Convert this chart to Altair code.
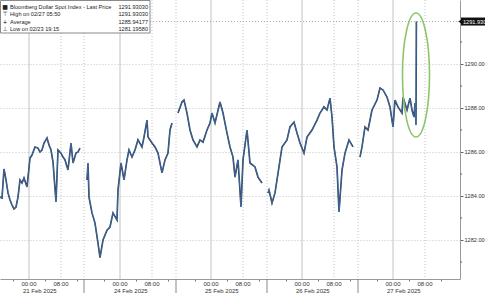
import altair as alt
import pandas as pd

# ---- price series (x in chart hours, 4 px per hour; y = index level) ----
d1_h = [0, 0.5, 1, 1.5, 2, 2.5, 3, 3.5, 4, 4.5, 5, 5.5, 6, 6.75, 7.5, 8, 8.75, 9.5, 10, 10.5,
        11, 11.75, 12.25, 12.75, 13.25, 14, 14.5, 15.25, 15.75, 16.25, 17, 17.75, 18.25, 19, 19.5, 20]
d1_v = [1283.95, 1283.91, 1285.23, 1284.73, 1284.14, 1283.82, 1283.59, 1283.41, 1283.50, 1283.95,
        1284.73, 1284.59, 1284.82, 1284.41, 1285.73, 1285.86, 1286.23, 1286.18, 1286.00, 1286.09,
        1286.41, 1286.64, 1286.32, 1286.09, 1285.55, 1283.73, 1286.09, 1285.95, 1285.77, 1285.64,
        1285.18, 1286.41, 1285.50, 1285.95, 1286.00, 1286.18]
d2_h = [21.75, 22, 22.25, 23, 23.75, 24.5, 25, 25.75, 26.75, 27.5, 28.25, 29.25, 29.5, 30.25, 31,
        31.75, 32.25, 33, 33.75, 34.5, 35.5, 36, 36.75, 37, 38, 38.75, 39.5, 40.5, 41.25, 42, 42.5, 43]
d2_v = [1284.73, 1285.50, 1283.95, 1283.23, 1282.77, 1281.86, 1281.20, 1282.00, 1282.45, 1282.59,
        1283.23, 1282.91, 1284.27, 1285.50, 1284.73, 1285.64, 1286.09, 1285.77, 1286.09, 1286.55,
        1286.23, 1286.68, 1287.45, 1286.68, 1286.41, 1286.23, 1285.95, 1285.05, 1285.64, 1285.95,
        1287.00, 1287.32]
d3_h = [44.5, 45.5, 46, 46.75, 47.5, 48.25, 49.25, 50, 50.75, 51.75, 52.5, 53, 53.75, 55, 55.75,
        56.75, 57.5, 58.25, 58.75, 59.5, 60.25, 60.75, 61.75, 62.5, 63.75, 64.5, 65.5]
d3_v = [1287.77, 1288.27, 1288.36, 1287.77, 1287.00, 1286.55, 1286.23, 1286.55, 1286.45, 1287.00,
        1287.32, 1287.77, 1287.32, 1288.27, 1287.77, 1286.86, 1286.23, 1285.77, 1284.86, 1285.64,
        1283.50, 1285.64, 1287.00, 1285.50, 1285.32, 1284.86, 1284.59]
d4_h = [67, 67.25, 68, 68.75, 69.75, 70.5, 71.75, 72.5, 73.5, 74.25, 75, 76, 76.75, 78, 79.25,
        80, 81, 81.75, 82.5, 83, 83.5, 84.25, 84.75, 85.5, 86.25, 87.25, 88.25]
d4_v = [1284.14, 1284.27, 1283.68, 1284.14, 1285.32, 1286.23, 1286.55, 1287.14, 1287.36, 1286.86,
        1286.41, 1285.95, 1286.68, 1287.00, 1287.45, 1287.77, 1288.05, 1287.91, 1288.45, 1287.59,
        1286.23, 1285.32, 1283.27, 1285.18, 1285.95, 1286.55, 1286.23]
d5_h = [90, 90.5, 91.25, 92, 93, 94.25, 95, 95.75, 96.75, 97.5, 98.25, 98.75, 99.5, 100.5,
        100.75, 101.75, 102.5, 103, 103.5, 103.75, 104, 104.1]
d5_v = [1285.77, 1286.23, 1287.14, 1287.00, 1287.91, 1288.36, 1288.91, 1288.82, 1288.50, 1288.05,
        1287.14, 1288.36, 1288.05, 1287.77, 1288.50, 1287.91, 1288.45, 1287.91, 1287.59, 1288.23,
        1287.23, 1291.93]

last_price = 1291.93
last_label = "1291.930"

# ---- axis content ----
y_ticks = [1282, 1284, 1286, 1288, 1290]
y_minor = [1281, 1283, 1285, 1287, 1289, 1291]
midnight_h = [7.25, 30, 52.75, 75.5, 98.25]
eight_h = [15.25, 38, 60.75, 83.5, 106.25]
boundary_h = [21, 44, 66.75, 89.5]
minor_h = [3.25, 11.25, 19.25, 26, 34, 42, 48.75, 56.75, 64.75, 71.5, 79.5, 87.5,
           94.25, 102.25, 110.25]
day_labels = ["21 Feb 2025", "24 Feb 2025", "25 Feb 2025", "26 Feb 2025", "27 Feb 2025"]
day_label_h = [5.75, 28.5, 51.25, 74, 96.75]

legend_syms = ["■", "⊤", "+", "⊥"]
legend_text = ["Bloomberg Dollar Spot Index - Last Price", "High on 02/27 05:50",
               "Average", "Low on 02/23 19:15"]
legend_vals = ["1291.93030", "1291.93030", "1285.94177", "1281.19580"]

# highlight ellipse centre
ell_h = 104
ell_v = 1289.5

FONT = "Liberation Sans"

rows = []
for s, (hs, vs) in enumerate([(d1_h, d1_v), (d2_h, d2_v), (d3_h, d3_v), (d4_h, d4_v), (d5_h, d5_v)]):
    for h, v in zip(hs, vs):
        rows.append({"h": h, "v": v, "s": s})
price = pd.DataFrame(rows)

xscale = alt.Scale(domain=[0, 115], nice=False, zero=False)
yscale = alt.Scale(domain=[1280.227, 1292.909], nice=False, zero=False)
yaxis = alt.Axis(orient="right", values=y_ticks, format=".3f", title=None,
                 labelFont=FONT, labelFontSize=5.6, labelColor="#333333", labelPadding=1,
                 tickSize=3, tickColor="#666666", domainColor="#999999",
                 grid=True, gridColor="#c4c4c4", gridDash=[1, 2])
xaxis = alt.Axis(values=minor_h, labels=False, title=None, tickSize=2, tickColor="#777777",
                 domainColor="#999999", grid=False)
X = alt.X("h:Q", scale=xscale, axis=xaxis)
Y = alt.Y("v:Q", scale=yscale, axis=yaxis)

base_y = alt.Chart(pd.DataFrame({"v": y_ticks})).mark_rule(opacity=0).encode(y=Y)

vmid = alt.Chart(pd.DataFrame({"h": midnight_h})).mark_rule(color="#c2c2c2", strokeWidth=1).encode(
    x=X, y=alt.value(0), y2=alt.value(279))
vdot = alt.Chart(pd.DataFrame({"h": eight_h + boundary_h})).mark_rule(
    color="#c4c4c4", strokeWidth=1, strokeDash=[1, 2]).encode(x=X, y=alt.value(0), y2=alt.value(279))
seps = alt.Chart(pd.DataFrame({"h": boundary_h})).mark_rule(color="#888888", strokeWidth=1).encode(
    x=X, y=alt.value(279), y2=alt.value(293))
lastline = alt.Chart(pd.DataFrame({"v": [last_price]})).mark_rule(
    color="#b0b0b0", strokeDash=[1, 2]).encode(y=Y, x=alt.value(0), x2=alt.value(460))
yminor = alt.Chart(pd.DataFrame({"v": y_minor})).mark_rule(color="#666666").encode(
    y=Y, x=alt.value(460), x2=alt.value(462))

line_dark = alt.Chart(price).mark_line(color="#1f3554", strokeWidth=1.6, interpolate="linear").encode(
    x=X, y=Y, detail="s:N")
line_light = alt.Chart(price).mark_line(color="#5b8fcc", strokeWidth=0.6, opacity=0.9).encode(
    x=X, y=Y, detail="s:N")

ellipse = alt.Chart(pd.DataFrame({"h": [ell_h], "v": [ell_v]})).mark_point(
    shape="M0,-1A0.218,1,0,1,1,0,1A0.218,1,0,1,1,0,-1Z", size=15376, filled=False,
    stroke="#8cc56a", strokeWidth=1.6, opacity=1).encode(x=X, y=Y)

last_box = alt.Chart(pd.DataFrame({"v": [last_price]})).mark_rect(
    color="#111111", yOffset=-4, y2Offset=4).encode(y=Y, y2="v:Q", x=alt.value(461), x2=alt.value(490))
last_tri = alt.Chart(pd.DataFrame({"v": [last_price]})).mark_point(
    shape="triangle-left", filled=True, color="#111111", size=18, opacity=1).encode(y=Y, x=alt.value(460))
last_txt = alt.Chart(pd.DataFrame({"v": [last_price], "t": [last_label]})).mark_text(
    color="white", font=FONT, fontSize=5.6, align="left", baseline="middle").encode(
    y=Y, x=alt.value(463), text="t:N")

tick_df = pd.DataFrame({"h": midnight_h + eight_h, "t": ["00:00"] * 5 + ["08:00"] * 5})
tick_txt = alt.Chart(tick_df).mark_text(font=FONT, fontSize=6, color="#333333", baseline="middle").encode(
    x=X, y=alt.value(284), text="t:N")
day_txt = alt.Chart(pd.DataFrame({"h": day_label_h, "t": day_labels})).mark_text(
    font=FONT, fontSize=6, color="#333333", baseline="middle", align="left").encode(
    x=X, y=alt.value(290.5), text="t:N")

leg_box = alt.Chart(pd.DataFrame({"a": [0]})).mark_rect(
    fill="white", stroke="#8a8a8a", strokeWidth=1).encode(
    x=alt.value(0.5), x2=alt.value(150), y=alt.value(0.5), y2=alt.value(33))
leg_df = pd.DataFrame({"sym": legend_syms, "txt": legend_text, "val": legend_vals,
                       "row": [0, 1, 2, 3]})
rowscale = alt.Scale(domain=[0, 3], range=[7, 29])
leg_sym = alt.Chart(leg_df).mark_text(font="DejaVu Sans", fontSize=6, color="#222222",
                                      align="center", baseline="middle").encode(
    x=alt.value(5), y=alt.Y("row:Q", scale=rowscale, axis=None), text="sym:N")
leg_txt = alt.Chart(leg_df).mark_text(font=FONT, fontSize=5.6, color="#222222",
                                      align="left", baseline="middle").encode(
    x=alt.value(10), y=alt.Y("row:Q", scale=rowscale, axis=None), text="txt:N")
leg_val = alt.Chart(leg_df).mark_text(font=FONT, fontSize=5.6, color="#222222",
                                      align="right", baseline="middle").encode(
    x=alt.value(148), y=alt.Y("row:Q", scale=rowscale, axis=None), text="val:N")

main = alt.layer(base_y, vmid, vdot, lastline, yminor, line_dark, line_light, ellipse,
                 seps, tick_txt, day_txt, last_box, last_tri, last_txt)
legend = alt.layer(leg_box, leg_sym, leg_txt, leg_val)

chart = alt.layer(main, legend).resolve_scale(y="independent").properties(
    width=460, height=279,
    autosize=alt.AutoSizeParams(type="none"),
    padding={"left": 0, "top": 0, "right": 25, "bottom": 14},
    background="white",
).configure_view(stroke=None)

chart.save("out.html", embed_options={"renderer": "svg", "actions": False})
